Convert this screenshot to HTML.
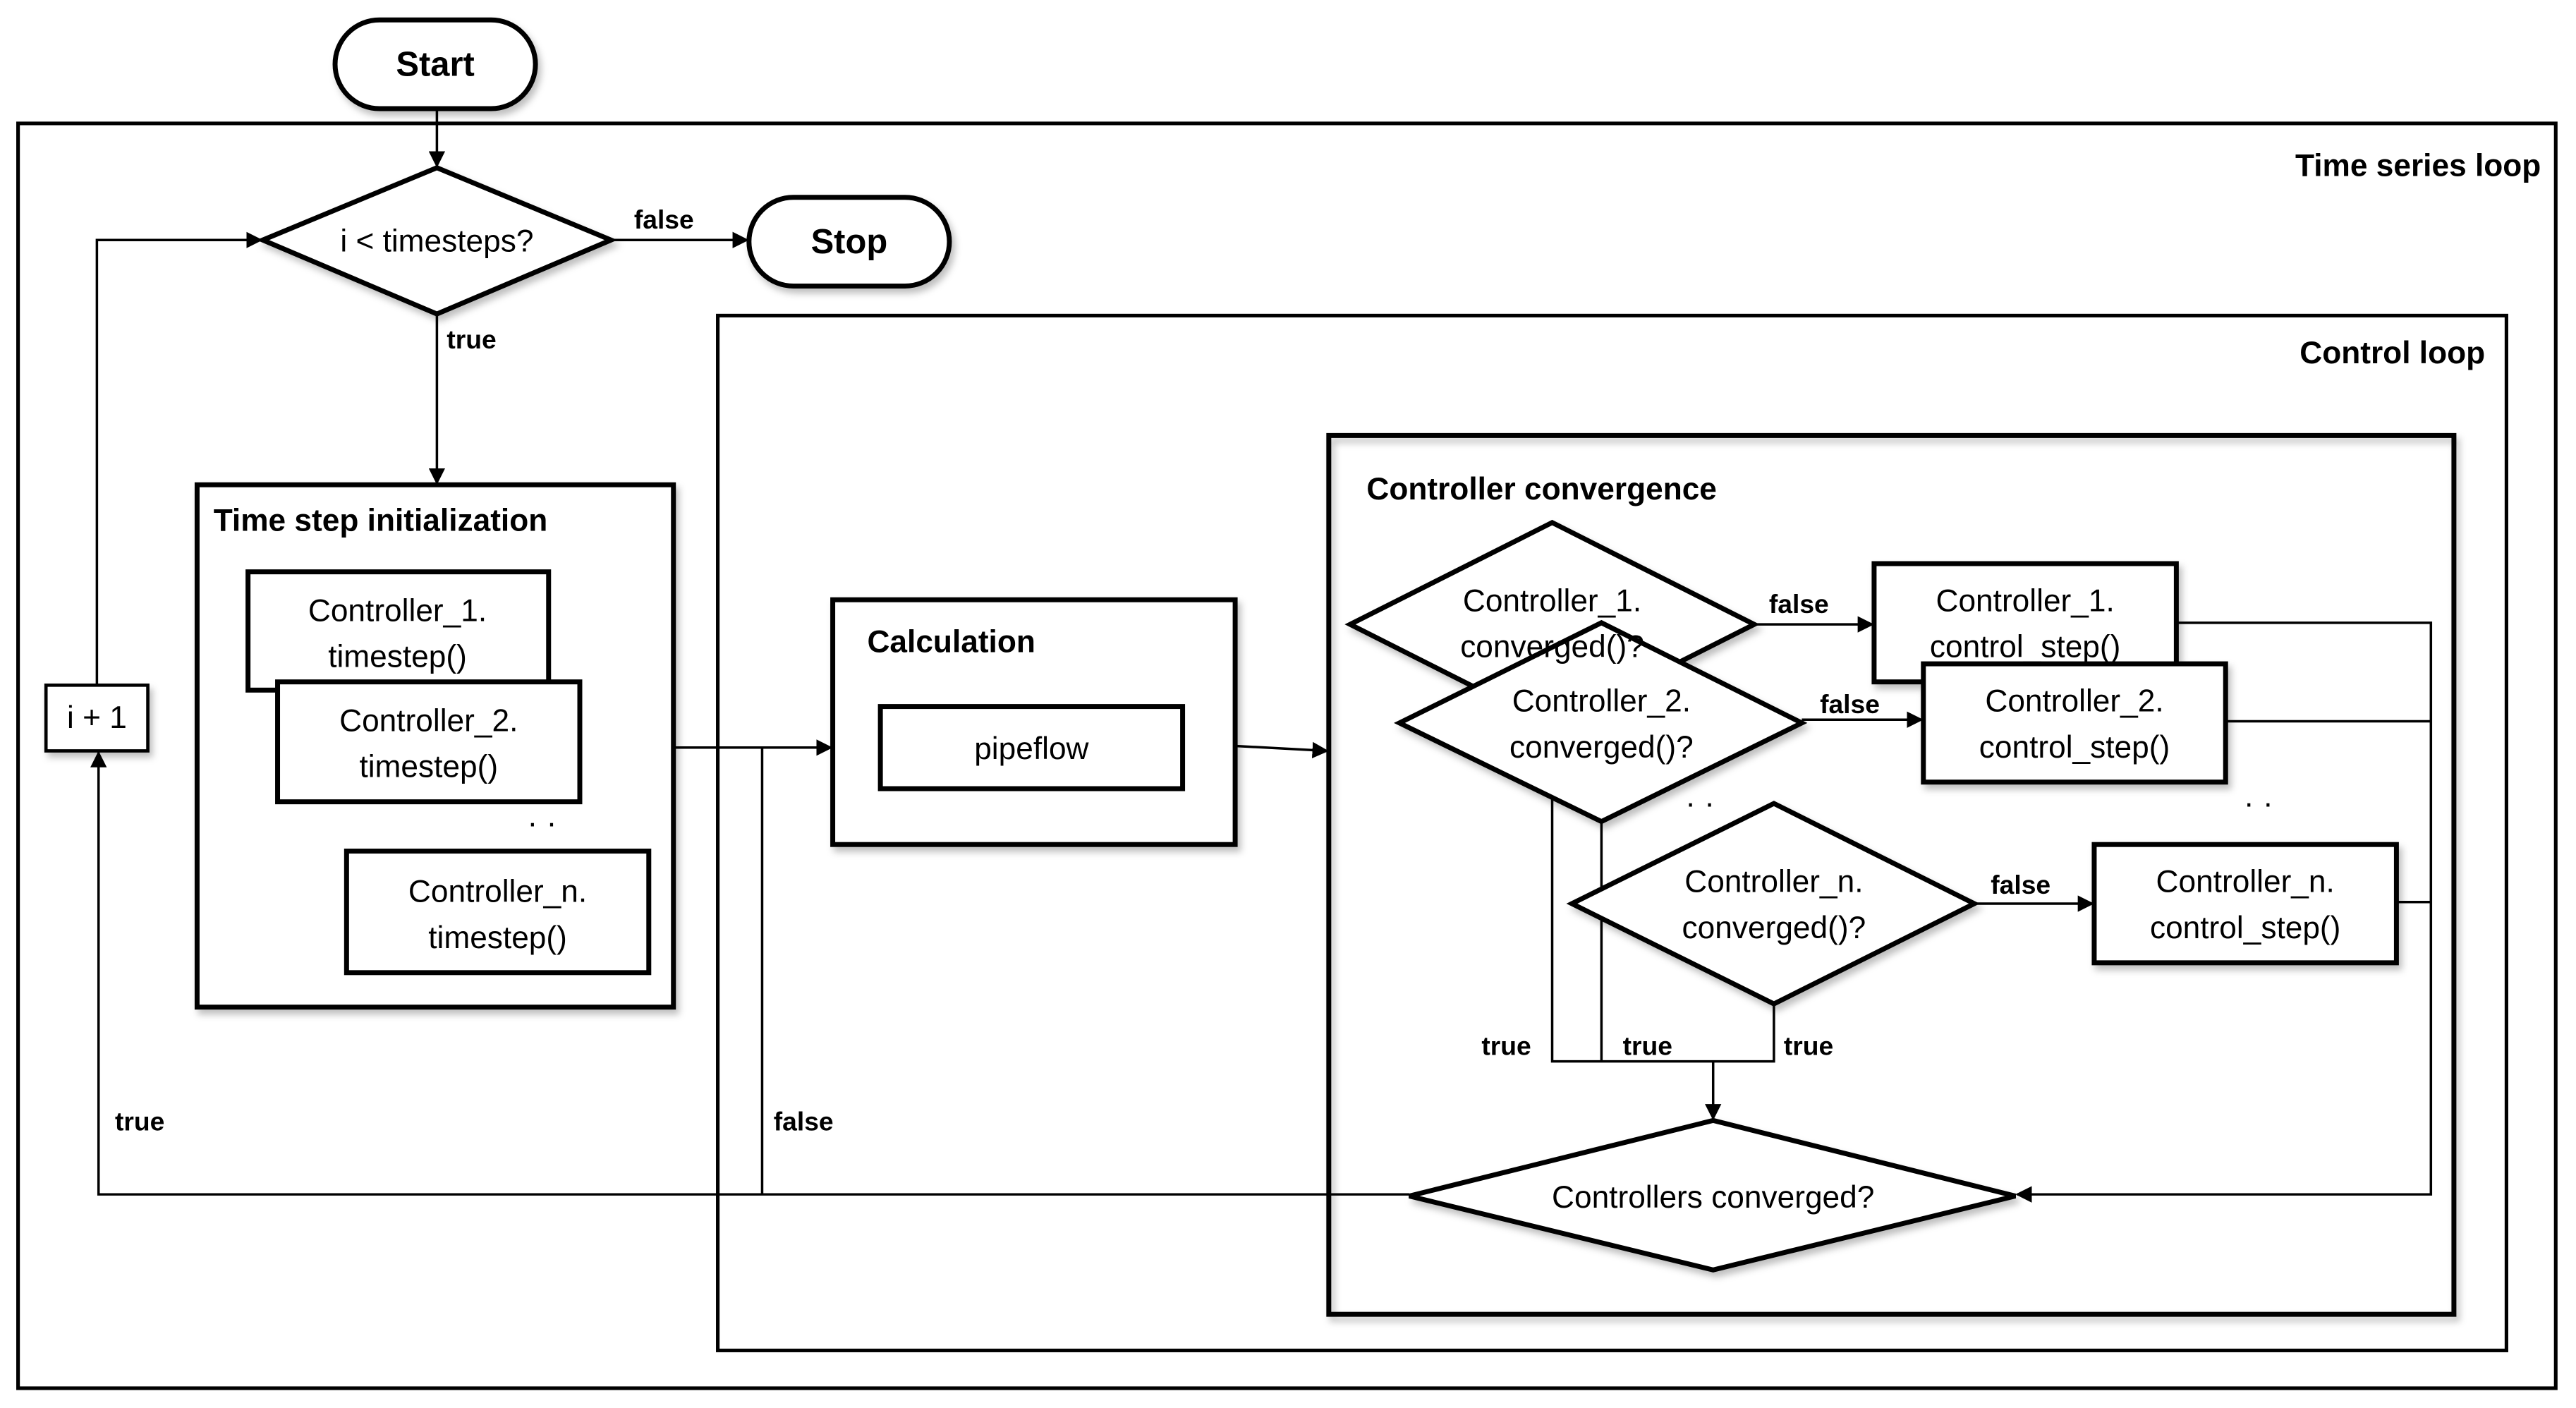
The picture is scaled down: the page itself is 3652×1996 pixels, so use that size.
<!DOCTYPE html>
<html><head><meta charset="utf-8"><style>
html,body{margin:0;padding:0;background:#fff;}
svg{display:block;}
text{font-family:"Liberation Sans",sans-serif;fill:#000;}
.b{font-weight:bold;}
</style></head><body>
<svg width="3652" height="1996" viewBox="0 0 1563 854" xmlns="http://www.w3.org/2000/svg">
<defs>
<marker id="a" markerWidth="10" markerHeight="10" refX="9" refY="5" orient="auto" markerUnits="userSpaceOnUse"><path d="M0,0 L10,5 L0,10 z" fill="#000"/></marker>
<filter id="s" x="-10%" y="-10%" width="130%" height="130%"><feDropShadow dx="2" dy="3" stdDeviation="2" flood-opacity="0.25"/></filter>
</defs>
<g transform="scale(0.9966)">
<g fill="none" stroke="#000" stroke-width="1.5">
<rect x="11" y="75" width="1545" height="770" stroke-width="2.2"/>
<rect x="437" y="192" width="1089" height="630" stroke-width="2.2"/>
<line x1="266" y1="66" x2="266" y2="101" marker-end="url(#a)"/>
<line x1="372" y1="146" x2="455" y2="146" marker-end="url(#a)"/>
<line x1="266" y1="191" x2="266" y2="294" marker-end="url(#a)"/>
<polyline points="59,417 59,146 159,146" marker-end="url(#a)"/>
<polyline points="858,727 60,727 60,458" marker-end="url(#a)"/>
<line x1="410" y1="455" x2="506" y2="455" marker-end="url(#a)"/>
<line x1="464" y1="455" x2="464" y2="727"/>
<line x1="752" y1="454" x2="808" y2="457" marker-end="url(#a)"/>
<line x1="1068" y1="380" x2="1140" y2="380" marker-end="url(#a)"/>
<line x1="1097" y1="438" x2="1170" y2="438" marker-end="url(#a)"/>
<line x1="1202" y1="550" x2="1274" y2="550" marker-end="url(#a)"/>
<polyline points="1325,379 1480,379 1480,727 1228,727" marker-end="url(#a)"/>
<line x1="1355" y1="439" x2="1480" y2="439"/>
<line x1="1459" y1="549" x2="1480" y2="549"/>
<polyline points="945,442 945,646 1080,646 1080,611"/>
<line x1="975" y1="500" x2="975" y2="646"/>
<line x1="1043" y1="646" x2="1043" y2="681" marker-end="url(#a)"/>
</g>
<g fill="#fff" stroke="#000" stroke-width="3" filter="url(#s)">
<rect x="204" y="12" width="122" height="54" rx="27"/>
<rect x="456" y="120" width="122" height="54" rx="27"/>
<polygon points="160,146 266,102 372,146 266,191"/>
<rect x="28" y="417" width="62" height="40" stroke-width="2"/>
<rect x="120" y="295" width="290" height="318"/>
<rect x="151" y="348" width="183" height="72"/>
<rect x="169" y="415" width="184" height="73"/>
<rect x="211" y="518" width="184" height="74"/>
<rect x="507" y="365" width="245" height="149"/>
<rect x="536" y="430" width="184" height="50"/>
<rect x="809" y="265" width="685" height="535" fill="none"/>
<polygon points="822,380 945,318 1068,380 945,442"/>
<rect x="1141" y="343" width="184" height="72"/>
<polygon points="852,440 975,379 1097,440 975,500"/>
<rect x="1171" y="404" width="184" height="72"/>
<polygon points="957,550 1080,489 1202,550 1080,611"/>
<rect x="1275" y="514" width="184" height="72"/>
<polygon points="858,728 1043,682 1227,728 1043,773"/>
</g>
<g font-size="21" font-weight="bold">
<text x="265" y="46" text-anchor="middle">Start</text>
<text x="517" y="154" text-anchor="middle">Stop</text>
</g>
<g font-size="19" font-weight="bold">
<text x="1547" y="107" text-anchor="end">Time series loop</text>
<text x="1513" y="221" text-anchor="end">Control loop</text>
<text x="130" y="323">Time step initialization</text>
<text x="528" y="397">Calculation</text>
<text x="832" y="304">Controller convergence</text>
</g>
<g font-size="16" font-weight="bold">
<text x="386" y="139">false</text>
<text x="272" y="212">true</text>
<text x="70" y="688">true</text>
<text x="471" y="688">false</text>
<text x="1077" y="373">false</text>
<text x="1108" y="434">false</text>
<text x="1212" y="544">false</text>
<text x="902" y="642">true</text>
<text x="988" y="642">true</text>
<text x="1086" y="642">true</text>
</g>
<g font-size="19" text-anchor="middle">
<text x="266" y="153">i &lt; timesteps?</text>
<text x="59" y="443">i + 1</text>
<text x="242" y="378">Controller_1.</text>
<text x="242" y="406">timestep()</text>
<text x="261" y="445">Controller_2.</text>
<text x="261" y="473">timestep()</text>
<text x="330" y="507">· ·</text>
<text x="303" y="549">Controller_n.</text>
<text x="303" y="577">timestep()</text>
<text x="628" y="462">pipeflow</text>
<text x="945" y="372">Controller_1.</text>
<text x="945" y="400">converged()?</text>
<text x="1233" y="372">Controller_1.</text>
<text x="1233" y="400">control_step()</text>
<text x="975" y="433">Controller_2.</text>
<text x="975" y="461">converged()?</text>
<text x="1263" y="433">Controller_2.</text>
<text x="1263" y="461">control_step()</text>
<text x="1035" y="495">· ·</text>
<text x="1375" y="495">· ·</text>
<text x="1080" y="543">Controller_n.</text>
<text x="1080" y="571">converged()?</text>
<text x="1367" y="543">Controller_n.</text>
<text x="1367" y="571">control_step()</text>
<text x="1043" y="735">Controllers converged?</text>
</g>
</g>
</svg>
</body></html>
